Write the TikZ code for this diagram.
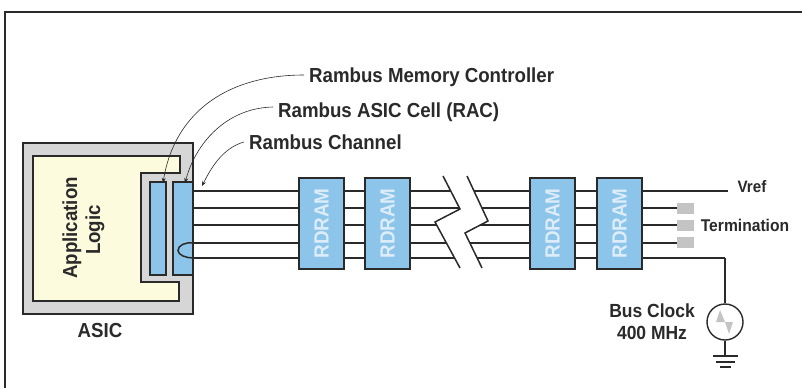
\documentclass[tikz,border=0pt]{standalone}
\usepackage{fontspec}
\setmainfont{Liberation Sans}
\newfontfamily\labfont[FakeStretch=0.92]{Liberation Sans Bold}
\usetikzlibrary{arrows.meta}
\definecolor{ink}{HTML}{2A2A2A}
\definecolor{chipgray}{HTML}{D6D6D6}
\definecolor{cream}{HTML}{FDFBDD}
\definecolor{blu}{HTML}{8CC4EA}
\definecolor{term}{HTML}{C4C4C4}
\definecolor{pale}{HTML}{DCECF8}
\tikzset{
  wire/.style={draw=ink,line width=1.5pt},
  outline/.style={draw=ink,line width=1.6pt},
  lab/.style={font=\labfont\fontsize{20.3}{24}\selectfont,text=ink,inner sep=0pt},
  rdram/.style={draw=ink,line width=1.6pt,fill=blu,minimum width=45pt,minimum height=91pt,inner sep=0pt,
    font=\labfont\fontsize{20.5}{24}\selectfont,text=pale},
  termbox/.style={fill=term,minimum width=17pt,minimum height=11pt,inner sep=0pt},
  callout/.style={draw=ink,line width=0.6pt,-{Stealth[length=5pt,width=4pt]}},
}
\begin{document}
\begin{tikzpicture}[x=1pt,y=-1pt]
\useasboundingbox (0,0) rectangle (802,388);
\fill[white] (0,0) rectangle (802,388);
\draw[ink,line width=1.3pt] (5,388) -- (5,12) -- (802,12);
% channel wires
\coordinate (wa0) at (193,191); \coordinate (wb0) at (193,208); \coordinate (wc0) at (193,225);
\coordinate (wd0) at (193,243); \coordinate (we0) at (193,258);
\coordinate (wa1) at (728,191); \coordinate (wb1) at (677,208); \coordinate (wc1) at (677,225);
\coordinate (wd1) at (677,243); \coordinate (we1) at (725,258);
\foreach \w in {a,b,c,d,e} \draw[wire] (w\w0) -- (w\w1);
% ASIC
\draw[outline,fill=chipgray] (23,143) rectangle (193,314);
\draw[outline,fill=cream] (33,156) -- (180,156) -- (180,173) -- (141,173) -- (141,282) -- (179,282) -- (179,301) -- (33,301) -- cycle;
\node[outline,fill=blu,minimum width=16pt,minimum height=93pt,inner sep=0pt] (rmc) at (158,228.5) {};
\node[outline,fill=blu,minimum width=20pt,minimum height=93pt,inner sep=0pt] (rac) at (183,228.5) {};
\draw[wire] (wd0) .. controls (186,242) and (178,245) .. (178,250.5) .. controls (178,255) and (186,258) .. (we0);
\node[lab,rotate=90] (app) at (72,228) {Application};
\node[lab,rotate=90] (logic) at (95,230) {Logic};
\node[lab] (asic) at (100,331) {ASIC};
% RDRAMs
\node[rdram] (r1) at (321.5,223.5) {\rotatebox{90}{RDRAM}};
\node[rdram] (r2) at (387.5,223.5) {\rotatebox{90}{RDRAM}};
\node[rdram] (r3) at (552.5,223.5) {\rotatebox{90}{RDRAM}};
\node[rdram] (r4) at (619.5,223.5) {\rotatebox{90}{RDRAM}};
% break
\fill[white] (443,176) -- (460,209) -- (435,222) -- (460,268) -- (482,268) -- (465,233) -- (488,221) -- (467,176) -- cycle;
\draw[wire] (443,176) -- (460,209) -- (435,222) -- (460,268);
\draw[wire] (467,176) -- (488,221) -- (465,233) -- (482,268);
% termination
\node[termbox] (t1) at (685.5,208.5) {};
\node[termbox] (t2) at (685.5,225.5) {};
\node[termbox] (t3) at (685.5,242.5) {};
\node[lab,font=\labfont\fontsize{16.5}{20}\selectfont] (vref) at (752,187) {Vref};
\node[lab,font=\labfont\fontsize{17}{20}\selectfont] (termlab) at (745,225) {Termination};
% clock
\node[draw=ink,line width=1.4pt,fill=white,circle,minimum size=36pt,inner sep=0pt] (clk) at (725,322) {};
\draw[wire] (we1) -- (clk.north);
\fill[term] (716,322) -- (720,310) -- (725,322) -- cycle;
\fill[term] (725,322) -- (733,322) -- (729,334) -- cycle;
\node[lab,align=center,font=\labfont\fontsize{19}{22}\selectfont] (bus) at (652,322) {Bus Clock\\400 MHz};
\coordinate (gnd) at (725,356);
\draw[wire] (clk.south) -- (gnd);
\draw[wire] (713,356) -- (738,356);
\draw[wire] (716,362) -- (735,362);
\draw[wire] (720,367) -- (731,367);
% callouts
\node[lab,anchor=west] (mc) at (309,77) {Rambus Memory Controller};
\node[lab,anchor=west] (cell) at (278,112) {Rambus ASIC Cell (RAC)};
\node[lab,anchor=west] (chan) at (249,142) {Rambus Channel};
\coordinate (mcT) at (163,183); \coordinate (cellT) at (185,183); \coordinate (chanT) at (202,186);
\draw[callout] (mc.west) ++(-5,-2) .. controls (230,75) and (175,110) .. (mcT);
\draw[callout] (cell.west) ++(-5,-5) .. controls (225,108) and (195,145) .. (cellT);
\draw[callout] (chan.west) ++(-5,0) .. controls (222,148) and (210,170) .. (chanT);
\end{tikzpicture}
\end{document}
